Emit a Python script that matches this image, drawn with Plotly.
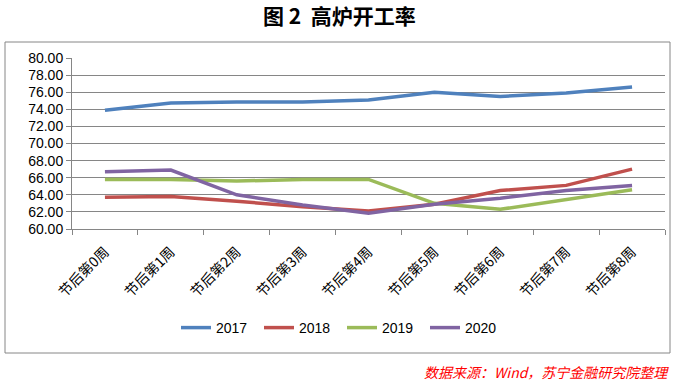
import plotly.graph_objects as go

categories = ["节后第0周", "节后第1周", "节后第2周", "节后第3周", "节后第4周",
              "节后第5周", "节后第6周", "节后第7周", "节后第8周"]
s2017 = [73.9, 74.75, 74.85, 74.85, 75.1, 76.0, 75.5, 75.9, 76.6]
s2018 = [63.7, 63.8, 63.25, 62.6, 62.1, 62.9, 64.5, 65.1, 67.0]
s2019 = [65.8, 65.8, 65.6, 65.8, 65.8, 63.0, 62.3, 63.4, 64.6]
s2020 = [66.7, 66.9, 64.0, 62.8, 61.85, 62.9, 63.6, 64.5, 65.1]
series_names = ["2017", "2018", "2019", "2020"]
colors = ["#4F81BD", "#C0504D", "#9BBB59", "#8064A2"]

W, H = 675, 384
L, R, T, B = 72, 10, 58, 155
pw, ph = W - L - R, H - T - B

def px(x):
    return (x - L) / pw

def py(y):
    return (H - B - y) / ph

fig = go.Figure()
for name, vals, c in zip(series_names, [s2017, s2018, s2019, s2020], colors):
    fig.add_trace(go.Scatter(x=categories, y=vals, name=name, mode="lines",
                             line=dict(color=c, width=3.5)))

fig.update_layout(
    width=W, height=H,
    margin=dict(l=L, r=R, t=T, b=B, autoexpand=False),
    paper_bgcolor="white", plot_bgcolor="white",
    font=dict(family="Liberation Sans, Arial, sans-serif", size=13, color="#000000"),
    showlegend=True,
    legend=dict(orientation="h", x=px(342), xanchor="center", y=py(328), yanchor="middle",
                font=dict(size=14), entrywidth=38, entrywidthmode="pixels", tracegroupgap=0),
    xaxis=dict(type="category", range=[-0.5, len(categories) - 0.5], automargin=False,
               tickangle=-45, tickson="boundaries", ticks="outside",
               ticklen=5, tickcolor="#868686", showline=True, linecolor="#868686",
               linewidth=1, showgrid=False, ticklabelstandoff=8,
               tickfont=dict(family="Noto Sans CJK SC", size=14, color="#000000")),
    yaxis=dict(range=[60, 80], dtick=2, tickformat=".2f", ticks="outside", ticklen=5,
               automargin=False,
               tickcolor="#868686", showline=True, linecolor="#868686", linewidth=1,
               showgrid=True, gridcolor="#868686", gridwidth=1, zeroline=False,
               tickfont=dict(size=14)),
    shapes=[dict(type="rect", xref="paper", yref="paper",
                 x0=px(5), x1=px(670), y0=py(353), y1=py(42),
                 line=dict(color="#868686", width=1), fillcolor="rgba(0,0,0,0)", layer="below")],
    annotations=[
        dict(text="<b>图 2  高炉开工率</b>", xref="paper", yref="paper", x=px(339), y=py(15),
             xanchor="center", yanchor="middle", showarrow=False,
             font=dict(family="Noto Sans CJK SC", size=21, color="#000000")),
        dict(text="<i>数据来源：Wind，苏宁金融研究院整理</i>", xref="paper", yref="paper",
             x=px(671), y=py(372), xanchor="right", yanchor="middle", showarrow=False,
             font=dict(family="Noto Sans CJK SC", size=14, color="#FF0000")),
    ],
)

fig.write_html("out.html", config={"displayModeBar": False},
               post_script="document.body.style.margin='0';")
